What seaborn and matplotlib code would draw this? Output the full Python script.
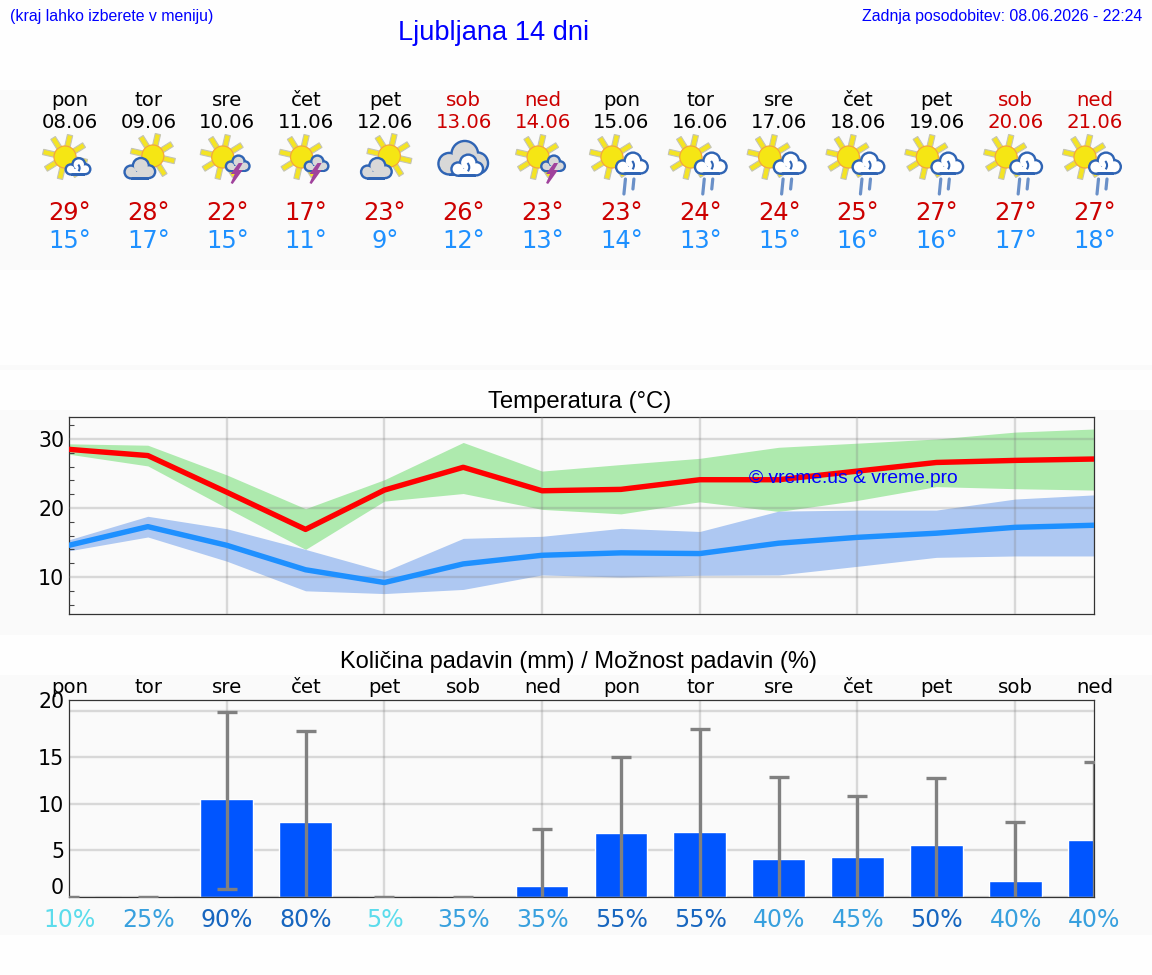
import numpy as np
import pandas as pd
import matplotlib
matplotlib.use("Agg")
import matplotlib.pyplot as plt
from matplotlib.patches import Circle, Rectangle, Polygon, Arc
from matplotlib.transforms import Affine2D
import seaborn as sns

# ---- forecast data ----
weekdays = ["pon", "tor", "sre", "čet", "pet", "sob", "ned",
            "pon", "tor", "sre", "čet", "pet", "sob", "ned"]
dates = ["08.06", "09.06", "10.06", "11.06", "12.06", "13.06", "14.06",
         "15.06", "16.06", "17.06", "18.06", "19.06", "20.06", "21.06"]
high_labels = [29, 28, 22, 17, 23, 26, 23, 23, 24, 24, 25, 27, 27, 27]
low_labels = [15, 17, 15, 11, 9, 12, 13, 14, 13, 15, 16, 16, 17, 18]
icons = ["fair", "cloudy", "storm", "storm", "cloudy", "overcast", "storm",
         "rain", "rain", "rain", "rain", "rain", "rain", "rain"]

tmax_mean = [28.5, 27.6, 22.3, 16.9, 22.6, 25.9, 22.5, 22.7, 24.1, 24.1, 25.35, 26.6, 26.9, 27.1]
tmax_upper = [29.3, 29.1, 24.8, 19.9, 24.1, 29.5, 25.35, 26.3, 27.2, 28.8, 29.4, 30.0, 31.0, 31.45]
tmax_lower = [27.8, 26.1, 20.0, 14.0, 21.0, 22.1, 19.8, 19.15, 20.9, 19.5, 21.1, 23.1, 22.8, 22.6]
tmin_mean = [14.6, 17.3, 14.6, 11.05, 9.2, 11.9, 13.15, 13.5, 13.4, 14.9, 15.75, 16.35, 17.2, 17.5]
tmin_upper = [15.4, 18.8, 17.0, 14.0, 10.8, 15.6, 15.9, 17.05, 16.6, 19.55, 19.7, 19.7, 21.3, 21.9]
tmin_lower = [13.8, 15.8, 12.3, 8.0, 7.6, 8.2, 10.3, 10.0, 10.25, 10.3, 11.55, 12.85, 13.05, 13.05]

rain_mm = [0, 0, 10.5, 8.05, 0, 0, 1.15, 6.85, 6.95, 4.05, 4.25, 5.55, 1.75, 6.1]
rain_high = [0, 0, 19.9, 17.85, 0, 0, 7.3, 15.05, 18.05, 12.9, 10.85, 12.8, 8.05, 14.5]
rain_low = [0, 0, 0.85, 0, 0, 0, 0, 0, 0, 0, 0, 0, 0, 0]
rain_chance = [10, 25, 90, 80, 5, 35, 35, 55, 55, 40, 45, 50, 40, 40]
chance_colors = ["#5cdcec", "#38a0de", "#1766bf", "#1766bf", "#5cdcec", "#38a0de", "#38a0de",
                 "#1766bf", "#1766bf", "#38a0de", "#38a0de", "#1766bf", "#38a0de", "#38a0de"]

days = np.arange(len(weekdays))

# ---- figure geometry, in pixels ----
W, H = 1152, 975
LEFT, RIGHT = 69, 1094
BAND = "#fafafa"
HEAD_FONT = "Liberation Sans"

sns.set_theme(style="white")
plt.rcParams["font.family"] = ["DejaVu Sans"]
plt.rcParams["axes.unicode_minus"] = False


def px_axes(fig, x0, y0, x1, y1, **kw):
    return fig.add_axes([x0 / W, 1 - y1 / H, (x1 - x0) / W, (y1 - y0) / H], **kw)


fig = plt.figure(figsize=(W / 100, H / 100), dpi=100, facecolor="#fefefe")

# backdrop bands behind the three sections
back = px_axes(fig, 0, 0, W, H, zorder=0)
back.set_xlim(0, W)
back.set_ylim(H, 0)
back.axis("off")
for y0, y1 in [(90, 270), (365, 370), (410, 635), (675, 935)]:
    back.add_patch(Rectangle((0, y0), W, y1 - y0, fc=BAND, ec="none"))

back.text(10, 16, "(kraj lahko izberete v meniju)", color="#0000ff", fontsize=11.4,
          family=HEAD_FONT, ha="left", va="center")
back.text(494, 32.5, "Ljubljana 14 dni", color="#0000ff", fontsize=19.6,
          family=HEAD_FONT, ha="center", va="center")
back.text(1142, 16, "Zadnja posodobitev: 08.06.2026 - 22:24", color="#0000ff", fontsize=11.4,
          family=HEAD_FONT, ha="right", va="center")

# header with one column per day, sharing the charts' horizontal scale
head = px_axes(fig, LEFT + 0.6, 90, RIGHT + 0.6, 270, zorder=1)
head.set_xlim(0, 13)
head.set_ylim(270, 90)
head.axis("off")
for d in days:
    tone = "#cc0000" if weekdays[d] in ("sob", "ned") else "black"
    head.text(d, 101, weekdays[d], color=tone, fontsize=14.2, ha="center", va="center")
    head.text(d, 123, dates[d], color=tone, fontsize=14.2, ha="center", va="center")
    head.text(d, 213.5, f"{high_labels[d]}°", color="#cc0000", fontsize=17.4, ha="center", va="center")
    head.text(d, 241.5, f"{low_labels[d]}°", color="#1e90ff", fontsize=17.4, ha="center", va="center")


# ---- weather pictograms ----
CLOUD_BLUE = "#2f64b4"


def draw_sun(ax, cx, cy):
    for ang in np.radians(np.arange(32, 392, 45)):
        u = np.array([np.cos(ang), -np.sin(ang)])
        n = np.array([-u[1], u[0]])
        c = np.array([cx, cy])
        pts = [c + u * 11 + n * 2.7, c + u * 22.5 + n * 2.7, c + u * 22.5 - n * 2.7, c + u * 11 - n * 2.7]
        ax.add_patch(Polygon(pts, fc="#f4e424", ec="#c4c4b4", lw=0.8, clip_on=False))
    ax.add_patch(Circle((cx, cy), 11, fc="#f5e614", ec="#f5a836", lw=0.9, clip_on=False))


def draw_cloud(ax, cx, cy, w, fill, curl=False):
    lobes = [(-0.27, 0.09, 0.23), (0.03, -0.09, 0.28), (0.27, 0.08, 0.23)]
    t = 2.4
    for lx, ly, r in lobes:
        ax.add_patch(Circle((cx + lx * w, cy + ly * w), r * w, fc=CLOUD_BLUE, ec="none", clip_on=False))
    ax.add_patch(Rectangle((cx - 0.27 * w, cy + 0.08 * w), 0.54 * w, 0.24 * w,
                           fc=CLOUD_BLUE, ec="none", clip_on=False))
    for lx, ly, r in lobes:
        ax.add_patch(Circle((cx + lx * w, cy + ly * w), r * w - t, fc=fill, ec="none", clip_on=False))
    ax.add_patch(Rectangle((cx - 0.27 * w, cy + 0.08 * w), 0.54 * w, 0.24 * w - t,
                           fc=fill, ec="none", clip_on=False))
    if curl:
        ax.add_patch(Arc((cx - 0.12 * w, cy + 0.04 * w), 0.36 * w, 0.36 * w, theta1=315, theta2=40,
                         color=CLOUD_BLUE, lw=1.5, clip_on=False))


def draw_bolt(ax, cx, cy):
    bolt = [(2, -9), (6, -9), (2, -2), (6, -2), (-4, 12), (-6, 11), (-2, 2), (-6, 2)]
    ax.add_patch(Polygon([(cx + x, cy + y) for x, y in bolt], fc="#a0429c", ec="none", clip_on=False))


def draw_rain(ax, cx, cy):
    ax.plot([cx - 6.5, cx - 8], [cy, cy + 15], color="#6a90c8", lw=2.3, clip_on=False)
    ax.plot([cx + 2, cx + 1], [cy, cy + 10], color="#6a90c8", lw=2.3, clip_on=False)


def draw_icon(ax, x, kind):
    if kind == "fair":
        draw_sun(ax, x - 4, 157)
        draw_cloud(ax, x + 9, 167, 27, "white", curl=True)
    elif kind == "cloudy":
        draw_sun(ax, x + 5, 156)
        draw_cloud(ax, x - 8, 169, 33, "#d8d8d8")
    elif kind == "storm":
        draw_sun(ax, x - 4, 157)
        draw_cloud(ax, x + 11, 164, 26, "#d8d8d8")
        draw_bolt(ax, x + 10, 172)
    elif kind == "overcast":
        draw_cloud(ax, x, 159, 52, "#d8d8d8")
        draw_cloud(ax, x + 4, 166, 34, "white", curl=True)
    elif kind == "rain":
        draw_sun(ax, x - 9, 157)
        draw_cloud(ax, x + 11, 164, 34, "white", curl=True)
        draw_rain(ax, x + 11, 179)


pict = px_axes(fig, 0, 0, W, H, zorder=2)
pict.set_xlim(0, W)
pict.set_ylim(H, 0)
pict.axis("off")
for d in days:
    draw_icon(pict, LEFT + d * (RIGHT - LEFT) / 13, icons[d])

# ---- temperature chart ----
temp = pd.DataFrame({"day": days, "tmax": tmax_mean, "tmin": tmin_mean})
ax_t = px_axes(fig, LEFT, 417, RIGHT, 614, zorder=3, facecolor=BAND)
ax_t.fill_between(days, tmax_lower, tmax_upper, color="#aeeaae", lw=0, zorder=1)
ax_t.fill_between(days, tmin_lower, tmin_upper, color="#aec8f2", lw=0, zorder=1)
ax_t.grid(True, which="major", color="#808080", alpha=0.28, lw=1.7, zorder=2)
ax_t.set_axisbelow(False)
sns.lineplot(data=temp, x="day", y="tmax", color="#ff0000", lw=3.9, ax=ax_t, zorder=4)
sns.lineplot(data=temp, x="day", y="tmin", color="#1e90ff", lw=3.9, ax=ax_t, zorder=4)
ax_t.set_xlim(0, 13)
ax_t.set_ylim(4.64, 33.19)
ax_t.set_xticks(np.arange(2, 13, 2))
ax_t.set_yticks([10, 20, 30])
ax_t.set_yticks(np.arange(6, 33, 2), minor=True)
ax_t.set(xlabel="", ylabel="")
ax_t.tick_params(axis="x", length=0, labelbottom=False)
ax_t.tick_params(axis="y", which="major", length=0, pad=3.5, labelsize=14.8, labelcolor="black")
ax_t.tick_params(axis="y", which="minor", direction="in", left=True, length=3.8, width=0.8, color="#444444")
ax_t.set_title("Temperatura (°C)", family=HEAD_FONT, fontsize=17.2, color="black", pad=6.2, x=0.4985)
ax_t.text(0.765, 0.69, "© vreme.us & vreme.pro", transform=ax_t.transAxes, color="#0000ff",
          fontsize=13.9, family=HEAD_FONT, ha="center", va="center", zorder=6)

# ---- precipitation chart ----
rain = pd.DataFrame({"day": days, "mm": rain_mm})
ax_r = px_axes(fig, LEFT, 700, RIGHT, 897, zorder=3, facecolor=BAND)
sns.barplot(data=rain, x="day", y="mm", native_scale=True, width=0.67, color="#0055ff",
            saturation=1, errorbar=None, ax=ax_r, zorder=2)
low_arr, high_arr, mm_arr = np.array(rain_low), np.array(rain_high), np.array(rain_mm)
bars = ax_r.errorbar(days, rain_mm, yerr=[mm_arr - low_arr, high_arr - mm_arr],
                     fmt="none", ecolor="#808080", elinewidth=2.4, capsize=7.2, capthick=2.4, zorder=3)
# lower whisker caps only where the range starts above zero
lower_caps = bars.lines[1][0]
shown = low_arr > 0
lower_caps.set_data(days[shown], low_arr[shown])
ax_r.set_xlim(0, 13)
ax_r.set_ylim(0, 21.18)
ax_r.set_axisbelow(True)
ax_r.set_xticks(np.arange(2, 13, 2))
ax_r.set_yticks([0, 5, 10, 15, 20])
ax_r.grid(True, color="#808080", alpha=0.28, lw=1.7)
ax_r.set(xlabel="", ylabel="")
ax_r.tick_params(axis="x", length=0, labelbottom=False)
ax_r.tick_params(axis="y", length=0, pad=3.5, labelsize=14.8, labelcolor="black")
# the two outermost scale labels sit above their grid positions
for lab, val in zip(ax_r.get_yticklabels(), [0, 5, 10, 15, 20]):
    if val in (0, 20):
        lab.set_transform(lab.get_transform() + Affine2D().translate(0, 11))
ax_r.set_title("Količina padavin (mm) / Možnost padavin (%)", family=HEAD_FONT, fontsize=17.05,
               color="black", pad=23.2, x=0.497)
tx = ax_r.get_xaxis_transform()
for d in days:
    ax_r.text(d + 0.006, 1.064, weekdays[d], transform=tx, color="black", fontsize=14.2,
              ha="center", va="center", clip_on=False)
    ax_r.text(d + 0.006, -0.117, f"{rain_chance[d]}%", transform=tx, color=chance_colors[d], fontsize=17,
              ha="center", va="center", clip_on=False)

for ax in (ax_t, ax_r):
    for sp in ax.spines.values():
        sp.set_color("#333333")
        sp.set_linewidth(0.9)

fig.savefig("out.png", dpi=100, facecolor=fig.get_facecolor())
